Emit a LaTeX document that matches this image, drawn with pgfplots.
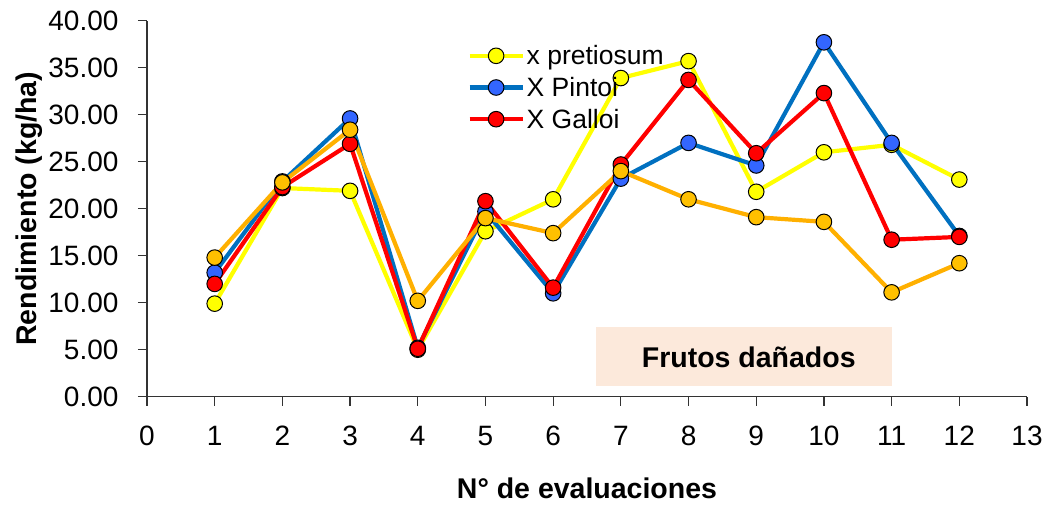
\documentclass[border=0pt]{standalone}
\usepackage{pgfplots}
\pgfplotsset{compat=1.18}
\usepackage{fontspec}
\setmainfont{Liberation Sans}
\definecolor{cyel}{RGB}{255,255,0}
\definecolor{cblueL}{RGB}{0,112,192}
\definecolor{cblueM}{RGB}{51,102,255}
\definecolor{cred}{RGB}{255,0,0}
\definecolor{corgL}{RGB}{255,176,0}
\definecolor{corgM}{RGB}{255,192,0}
\definecolor{peach}{RGB}{252,233,219}
\begin{document}
\begin{tikzpicture}
\path[use as bounding box] (-147pt,-111.3pt) rectangle (900pt,396.7pt);
\begin{axis}[
  scale only axis, width=880pt, height=376pt,
  xmin=0, xmax=13, ymin=0, ymax=40,
  axis x line*=bottom, axis y line*=left, axis line style={-, line width=1.2pt, black!80},
  xtick={0,...,13}, ytick={0,5,...,40},
  tick align=outside, major tick length=9pt,
  every tick/.style={line width=1.2pt, black!80},
  /pgf/number format/assume math mode=true,
  yticklabel style={xshift=-16pt, /pgf/number format/fixed, /pgf/number format/fixed zerofill, /pgf/number format/precision=2},
  xticklabel style={yshift=-17pt},
  ticklabel style={font=\fontsize{28}{28}\selectfont},
  xlabel={\textbf{N° de evaluaciones}},
  ylabel={\textbf{Rendimiento (kg/ha)}},
  xlabel style={yshift=-25pt},
  ylabel style={yshift=-1pt},
  label style={font=\fontsize{28.5}{28.5}\selectfont},
  legend style={draw=none, fill=none, at={(rel axis cs:0.364,0.94)}, anchor=north west,
    font=\fontsize{26.5}{26.5}\selectfont, row sep=7pt, inner sep=0pt},
  legend cell align=left,
  legend image code/.code={\draw[mark repeat=2,mark phase=2,#1] plot coordinates {(0pt,0pt) (26.5pt,0pt) (53pt,0pt)};},
  every axis plot/.append style={line width=4.2pt, mark=*, mark size=7.8pt},
]
\fill[peach] (axis cs:6.64,1.14) rectangle (axis cs:11.0,7.38);
\node[font=\fontsize{28.5}{28.5}\selectfont\bfseries] at (axis cs:8.89,4.22) {Frutos dañados};
\addplot[cyel, mark options={fill=cyel, draw=black, line width=1pt}] coordinates {(1,9.9) (2,22.2) (3,21.9) (4,5.0) (5,17.6) (6,21.0) (7,33.9) (8,35.7) (9,21.8) (10,26.0) (11,26.8) (12,23.1)};
\addlegendentry{x pretiosum}
\addplot[cblueL, mark options={fill=cblueM, draw=black, line width=1pt}] coordinates {(1,13.2) (2,22.9) (3,29.6) (4,5.2) (5,19.7) (6,11.0) (7,23.2) (8,27.0) (9,24.6) (10,37.7) (11,27.0) (12,17.1)};
\addlegendentry{X Pintoi}
\addplot[cred, mark options={fill=cred, draw=black, line width=1pt}] coordinates {(1,12.0) (2,22.3) (3,26.9) (4,5.1) (5,20.8) (6,11.6) (7,24.7) (8,33.7) (9,25.9) (10,32.3) (11,16.7) (12,17.0)};
\addlegendentry{X Galloi}
\addplot[corgL, mark options={fill=corgM, draw=black, line width=1pt}, forget plot] coordinates {(1,14.8) (2,22.8) (3,28.4) (4,10.2) (5,19.0) (6,17.4) (7,24.0) (8,21.0) (9,19.1) (10,18.6) (11,11.1) (12,14.2)};
\end{axis}
\end{tikzpicture}
\end{document}
